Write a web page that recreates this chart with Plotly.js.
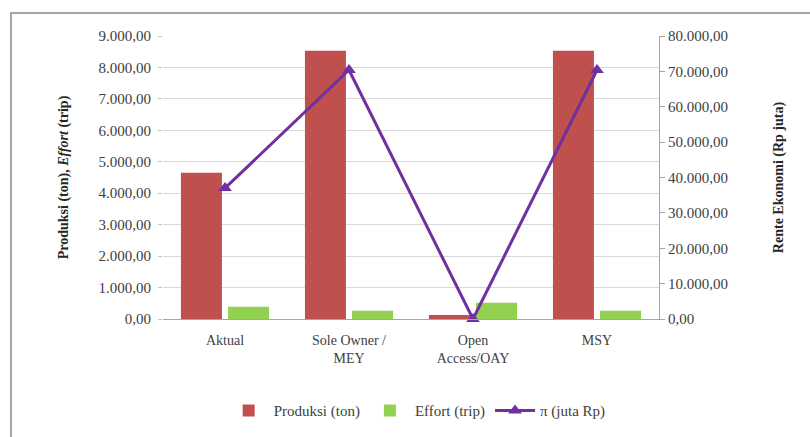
<!DOCTYPE html>
<html>
<head>
<meta charset="utf-8">
<script src="https://cdn.plot.ly/plotly-3.0.1.min.js"></script>
<style>
  html, body { margin: 0; padding: 0; background: #fff; overflow: hidden; }
  #frame { position: absolute; left: 10px; top: 12px; width: 820px; height: 440px;
           border-left: 2px solid #a6a6a6; border-top: 2px solid #a6a6a6; }
  #chart { position: absolute; left: 0; top: 0; width: 810px; height: 437px; }
</style>
</head>
<body>
<div id="frame"></div>
<div id="chart"></div>
<script>
// Scenario categories (x axis)
const categories = ["Aktual", "Sole Owner /<br>MEY", "Open<br>Access/OAY", "MSY"];
// Production (ton) and effort (trip), left axis
const produksi = [4650, 8530, 130, 8530];
const effort = [390, 265, 520, 265];
// Economic rent π (juta Rp), right axis
const rente = [37000, 70400, 0, 70400];

const serif = "Liberation Serif";

const traces = [
  {
    type: "bar", name: "Produksi (ton)", x: categories, y: produksi,
    marker: { color: "#C0504D" }, yaxis: "y"
  },
  {
    type: "bar", name: "Effort (trip)", x: categories, y: effort,
    marker: { color: "#92D050" }, yaxis: "y"
  },
  {
    type: "scatter", mode: "lines+markers", name: "π (juta Rp)",
    x: categories, y: rente, yaxis: "y2",
    line: { color: "#7030A0", width: 3 },
    marker: { symbol: "triangle-up", size: 12, color: "#7030A0" },
    cliponaxis: false
  }
];

const layout = {
  width: 810, height: 437,
  margin: { l: 163, r: 151, t: 36, b: 118, autoexpand: false },
  paper_bgcolor: "rgba(0,0,0,0)", plot_bgcolor: "rgba(0,0,0,0)",
  separators: ",.",
  font: { family: serif, size: 14, color: "#404040" },
  barmode: "group", bargap: 0.24, bargroupgap: 0.13,
  showlegend: true,
  legend: {
    orientation: "h", xref: "container", x: 0.515, xanchor: "center",
    yref: "container", y: 0.06, yanchor: "middle",
    font: { family: serif, size: 15, color: "#404040" }, traceorder: "normal",
    itemwidth: 40
  },
  xaxis: {
    type: "category", showline: true, linecolor: "#a6a6a6", linewidth: 1,
    ticks: "", ticklabelstandoff: 8,
    tickfont: { family: serif, size: 14, color: "#404040" },
    fixedrange: true
  },
  yaxis: {
    range: [0, 9000], dtick: 1000, tickformat: ",.2f",
    showgrid: true, gridcolor: "#d9d9d9", gridwidth: 1,
    zeroline: false, showline: false,
    ticks: "outside", ticklen: 4, tickcolor: "#bfbfbf", ticklabelstandoff: 4,
    tickfont: { family: serif, size: 15, color: "#404040" },
    title: { text: "<b>Produksi (ton), <i>Effort</i> (trip)</b>", standoff: 26,
             font: { family: serif, size: 14, color: "#262626" } }
  },
  yaxis2: {
    overlaying: "y", side: "right",
    range: [0, 80000], dtick: 10000, tickformat: ",.2f",
    showgrid: false, zeroline: false,
    showline: true, linecolor: "#a6a6a6", linewidth: 1,
    ticks: "outside", ticklen: 5, tickcolor: "#a6a6a6",
    tickfont: { family: serif, size: 15, color: "#404040" },
    title: { text: "<b>Rente Ekonomi (Rp juta)</b>", standoff: 46,
             font: { family: serif, size: 14, color: "#262626" } }
  }
};

Plotly.newPlot("chart", traces, layout, { displayModeBar: false, staticPlot: true });
</script>
</body>
</html>
